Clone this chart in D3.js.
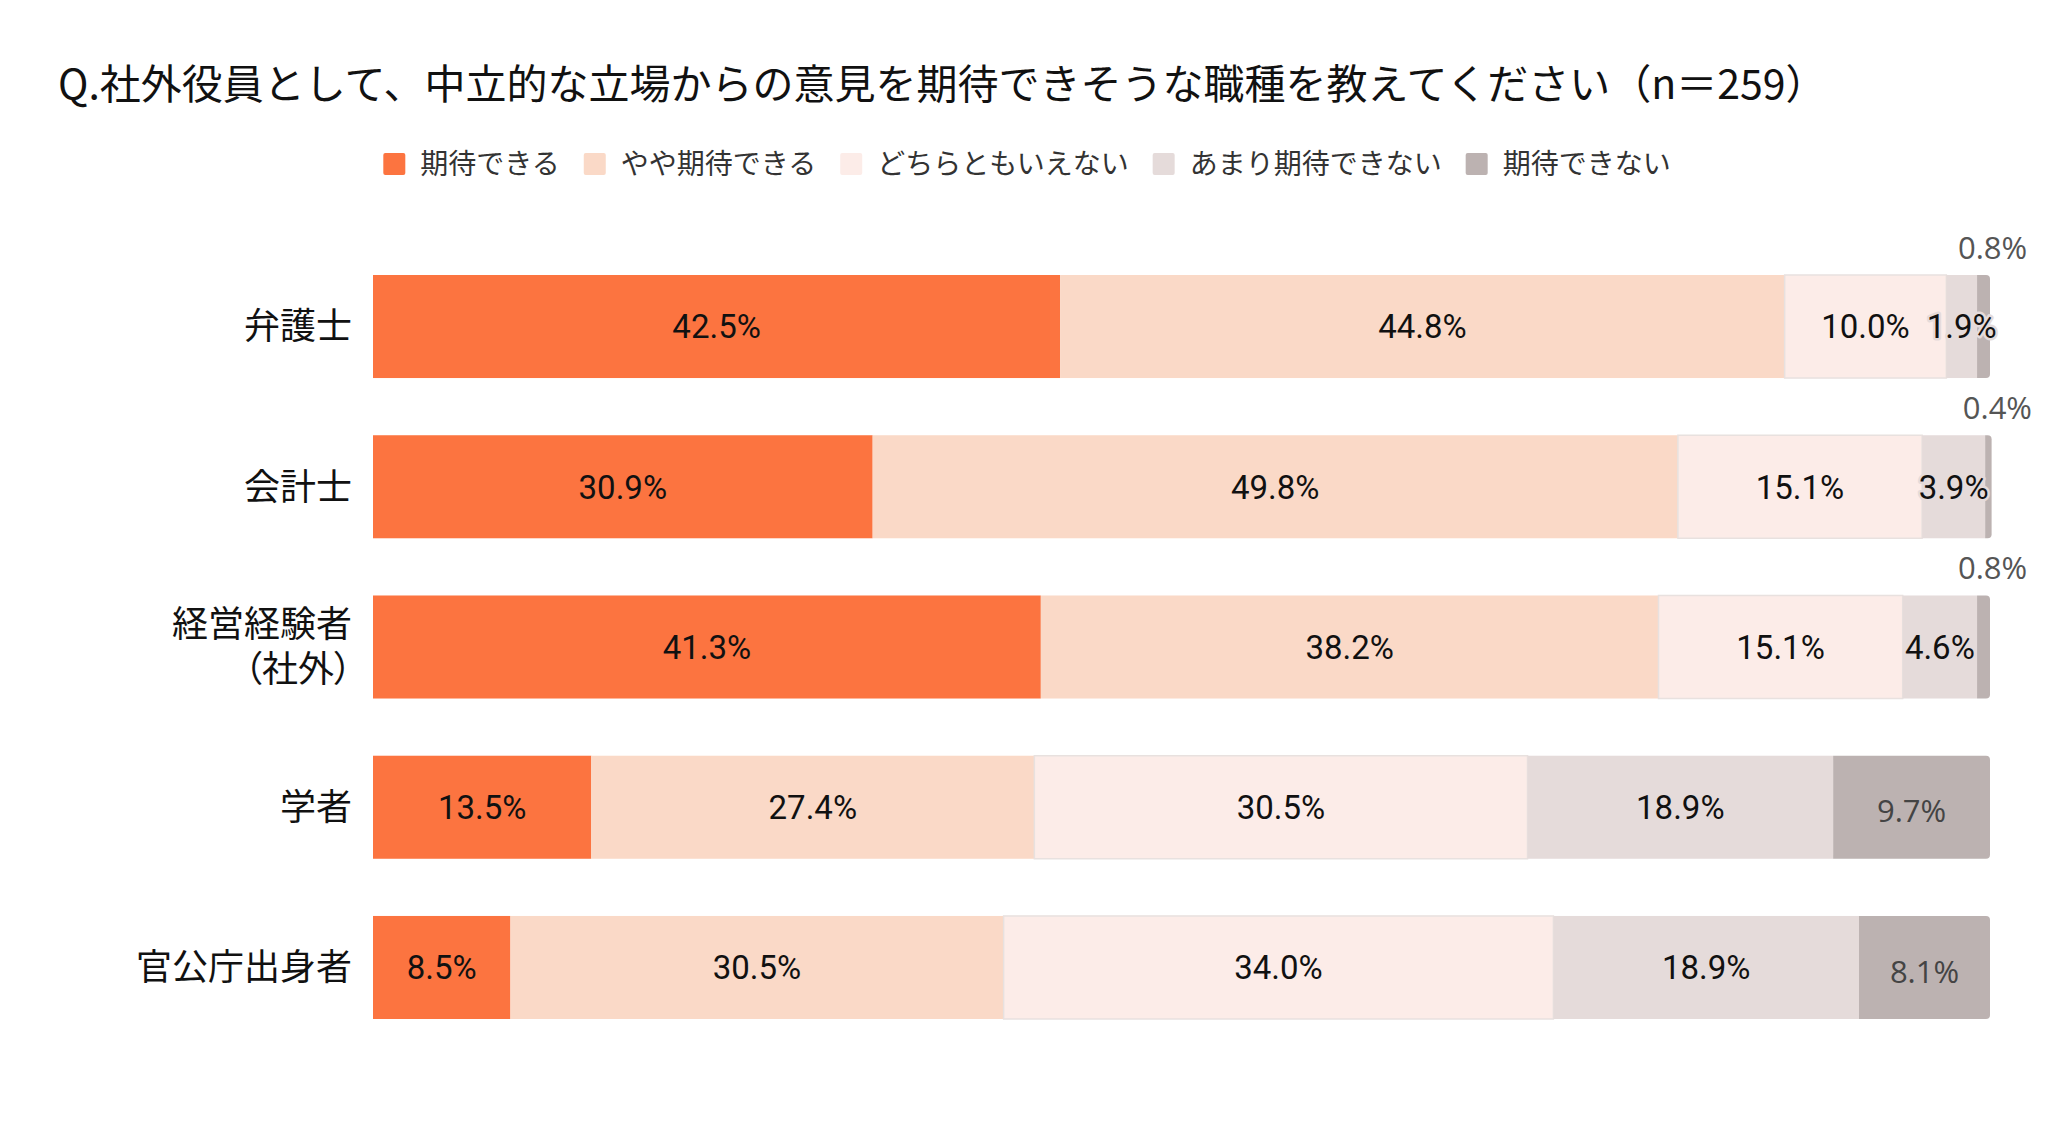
<!DOCTYPE html>
<html>
<head>
<meta charset="utf-8">
<script src="https://cdn.jsdelivr.net/npm/d3@7"></script>
<style>
  body { margin: 0; background: #fff; }
  text { font-family: "Noto Sans CJK JP", "Noto Sans", sans-serif; }
</style>
</head>
<body>
<div id="chart"></div>
<script>
// data
var categories = ["弁護士", "会計士", "経営経験者\n（社外）", "学者", "官公庁出身者"];
var seriesNames = ["期待できる", "やや期待できる", "どちらともいえない", "あまり期待できない", "期待できない"];
var kitaiDekiru   = [42.5, 30.9, 41.3, 13.5, 8.5];
var yayaKitai     = [44.8, 49.8, 38.2, 27.4, 30.5];
var dochiramo     = [10.0, 15.1, 15.1, 30.5, 34.0];
var amariKitai    = [1.9, 3.9, 4.6, 18.9, 18.9];
var kitaiDekinai  = [0.8, 0.4, 0.8, 9.7, 8.1];
var colors = ["#fc7440", "#fad9c7", "#fcece8", "#e5dbda", "#bcb2b1"];

var W = 2048, H = 1133;

var rows = categories.map(function(c, i) {
  return {
    cat: c,
    "期待できる": kitaiDekiru[i],
    "やや期待できる": yayaKitai[i],
    "どちらともいえない": dochiramo[i],
    "あまり期待できない": amariKitai[i],
    "期待できない": kitaiDekinai[i]
  };
});

var stacked = d3.stack().keys(seriesNames)(rows);

var x = d3.scaleLinear().domain([0, 100]).range([373, 1990]);
var y = d3.scaleBand().domain(categories).range([275, 1019]).paddingInner(0.357).paddingOuter(0);
var color = d3.scaleOrdinal().domain(seriesNames).range(colors);

var svg = d3.select("#chart").append("svg")
    .attr("width", W)
    .attr("height", H);

svg.append("rect").attr("width", W).attr("height", H).attr("fill", "#fff");

// title
svg.append("text")
    .attr("x", 58)
    .attr("y", 99)
    .attr("font-size", 41)
    .attr("fill", "#111")
    .text("Q.社外役員として、中立的な立場からの意見を期待できそうな職種を教えてください（n＝259）");

// legend
var legend = svg.append("g").attr("transform", "translate(0,164)");
var lx = 0;
var items = legend.selectAll("g").data(seriesNames).join("g");
items.append("rect")
    .attr("y", -11)
    .attr("width", 22)
    .attr("height", 22)
    .attr("rx", 2)
    .attr("fill", function(d) { return color(d); });
items.append("text")
    .attr("x", 37)
    .attr("dy", "0.36em")
    .attr("font-size", 28)
    .attr("fill", "#333")
    .text(function(d) { return d; });
items.each(function() {
  var g = d3.select(this);
  var tw = g.select("text").node().getComputedTextLength();
  g.attr("transform", "translate(" + lx + ",0)");
  lx += 37 + tw + 24;
});
legend.attr("transform", "translate(" + (1027 - (lx - 24) / 2) + ",164)");

// category labels
var catG = svg.append("g");
categories.forEach(function(c) {
  var lines = c.split("\n");
  var cy = y(c) + y.bandwidth() / 2;
  lines.forEach(function(line, j) {
    catG.append("text")
      .attr("x", 352)
      .attr("y", cy + (j - (lines.length - 1) / 2) * 45)
      .attr("dy", "0.36em")
      .attr("text-anchor", "end")
      .attr("font-size", 36)
      .attr("fill", "#111")
      .style("font-feature-settings", j > 0 ? "'palt'" : "normal")
      .text(line);
  });
});

// bars
var last = seriesNames.length - 1;
var layers = svg.append("g").selectAll("g").data(stacked).join("g")
    .attr("fill", function(d) { return color(d.key); });

function roundRight(x0, y0, w, h, r) {
  return "M" + x0 + "," + y0 +
    "H" + (x0 + w - r) +
    "Q" + (x0 + w) + "," + y0 + " " + (x0 + w) + "," + (y0 + r) +
    "V" + (y0 + h - r) +
    "Q" + (x0 + w) + "," + (y0 + h) + " " + (x0 + w - r) + "," + (y0 + h) +
    "H" + x0 + "Z";
}

layers.each(function(layer) {
  var g = d3.select(this);
  var idx = layer.index;
  layer.forEach(function(d) {
    var x0 = x(d[0]), w = x(d[1]) - x(d[0]), y0 = y(d.data.cat), h = y.bandwidth();
    if (idx === last) {
      g.append("path").attr("d", roundRight(x0, y0, w, h, 4));
    } else {
      g.append("rect")
        .attr("x", x0).attr("y", y0)
        .attr("width", w).attr("height", h)
        .attr("stroke", idx === 2 ? "#e8e1df" : "none")
        .attr("stroke-width", 1.5);
    }
  });
});

// value labels
var labels = svg.append("g");
stacked.forEach(function(layer) {
  layer.forEach(function(d) {
    var v = d[1] - d[0];
    var cx = x((d[0] + d[1]) / 2);
    var cy = y(d.data.cat) + y.bandwidth() / 2;
    var t = labels.append("text").text(v.toFixed(1) + "%");
    if (v < 1) {
      // too thin: above the bar
      t.attr("x", cx + 9)
        .attr("y", y(d.data.cat) - 16)
        .attr("text-anchor", "middle")
        .attr("font-size", 31)
        .attr("fill", "#555")
        .style("font-family", "'Open Sans', sans-serif");
    } else if (layer.index === last) {
      t.attr("x", cx)
        .attr("y", cy + 4)
        .attr("dy", "0.36em")
        .attr("text-anchor", "middle")
        .attr("font-size", 31)
        .attr("fill", "#444")
        .style("font-family", "'Open Sans', sans-serif");
    } else {
      t.attr("x", cx)
        .attr("y", cy)
        .attr("dy", "0.36em")
        .attr("text-anchor", "middle")
        .attr("font-size", 33)
        .attr("fill", "#111")
        .attr("stroke", color(layer.key))
        .attr("stroke-width", 5)
        .attr("stroke-linejoin", "round")
        .attr("paint-order", "stroke")
        .style("font-family", "Roboto, sans-serif");
    }
  });
});
</script>
</body>
</html>
